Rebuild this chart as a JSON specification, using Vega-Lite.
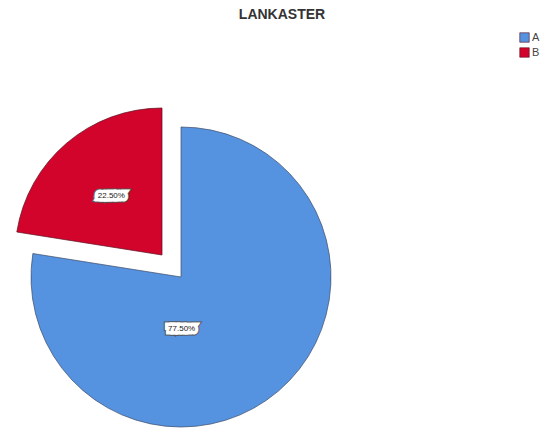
{
  "$schema": "https://vega.github.io/schema/vega-lite/v6.json",
  "autosize": "none",
  "padding": {"left": 0, "top": 30, "right": 187, "bottom": 0},
  "width": 362,
  "height": 494,
  "background": "white",
  "title": {"text": "LANKASTER", "fontSize": 14, "fontWeight": "bold", "font": "Liberation Sans", "color": "#333333", "dx": 101, "offset": 8},
  "data": {"values": [
    {"cat": "A", "value": 0.775},
    {"cat": "B", "value": 0.225}
  ]},
  "encoding": {
    "theta": {"field": "value", "type": "quantitative", "stack": true},
    "order": {"field": "cat", "sort": "ascending"},
    "detail": {"field": "cat"}
  },
  "layer": [
    {
      "mark": {"type": "arc", "outerRadius": 150, "stroke": "#3c4a66", "strokeWidth": 0.7},
      "encoding": {
        "color": {
          "field": "cat", "type": "nominal",
          "scale": {"domain": ["A", "B"], "range": ["#5592E0", "#D2042B"]},
          "legend": {
            "title": null, "orient": "none", "legendX": 519, "legendY": 2,
            "symbolType": "square", "symbolSize": 90, "symbolOpacity": 1, "symbolStrokeColor": "#555", "symbolStrokeWidth": 0.6,
            "labelFont": "Liberation Sans", "labelFontSize": 11, "labelColor": "#444", "rowPadding": 2, "labelOffset": 2
          }
        },
        "opacity": {"condition": {"test": "datum.cat === 'A'", "value": 1}, "value": 0}
      }
    },
    {
      "mark": {"type": "arc", "outerRadius": 147, "stroke": "#5a1020", "strokeWidth": 0.7, "xOffset": -19, "yOffset": -22},
      "encoding": {
        "color": {"field": "cat", "type": "nominal"},
        "opacity": {"condition": {"test": "datum.cat === 'B'", "value": 1}, "value": 0}
      }
    },
    {
      "mark": {"type": "text", "radius": 78, "dx": -50, "dy": -7, "fontSize": 8, "font": "Liberation Sans", "fill": "#555555", "stroke": "#555555", "strokeWidth": 9, "strokeJoin": "miter"},
      "encoding": {"text": {"field": "value", "format": ".2%"}, "opacity": {"condition": {"test": "datum.cat === 'A'", "value": 1}, "value": 0}}
    },
    {
      "mark": {"type": "text", "radius": 78, "dx": -50, "dy": -7, "fontSize": 8, "font": "Liberation Sans", "fill": "white", "stroke": "white", "strokeWidth": 7, "strokeJoin": "miter"},
      "encoding": {"text": {"field": "value", "format": ".2%"}, "opacity": {"condition": {"test": "datum.cat === 'A'", "value": 1}, "value": 0}}
    },
    {
      "mark": {"type": "text", "radius": 78, "dx": -50, "dy": -7, "fontSize": 8, "font": "Liberation Sans", "fill": "#222222"},
      "encoding": {"text": {"field": "value", "format": ".2%"}, "opacity": {"condition": {"test": "datum.cat === 'A'", "value": 1}, "value": 0}}
    },
    {
      "mark": {"type": "text", "radius": 78, "dx": -19, "dy": -22, "fontSize": 8, "font": "Liberation Sans", "fill": "#555555", "stroke": "#555555", "strokeWidth": 9, "strokeJoin": "miter"},
      "encoding": {"text": {"field": "value", "format": ".2%"}, "opacity": {"condition": {"test": "datum.cat === 'B'", "value": 1}, "value": 0}}
    },
    {
      "mark": {"type": "text", "radius": 78, "dx": -19, "dy": -22, "fontSize": 8, "font": "Liberation Sans", "fill": "white", "stroke": "white", "strokeWidth": 7, "strokeJoin": "miter"},
      "encoding": {"text": {"field": "value", "format": ".2%"}, "opacity": {"condition": {"test": "datum.cat === 'B'", "value": 1}, "value": 0}}
    },
    {
      "mark": {"type": "text", "radius": 78, "dx": -19, "dy": -22, "fontSize": 8, "font": "Liberation Sans", "fill": "#222222"},
      "encoding": {"text": {"field": "value", "format": ".2%"}, "opacity": {"condition": {"test": "datum.cat === 'B'", "value": 1}, "value": 0}}
    }
  ],
  "config": {"view": {"stroke": null}}
}
